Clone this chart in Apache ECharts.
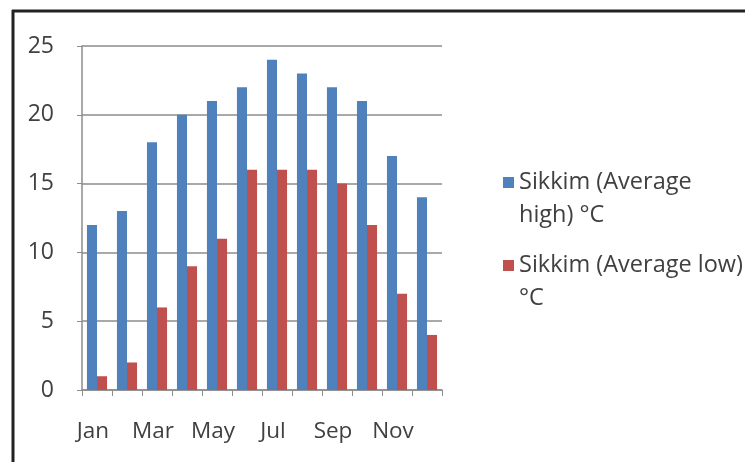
<!DOCTYPE html>
<html>
<head>
<meta charset="utf-8">
<script src="https://cdn.jsdelivr.net/npm/echarts@6/dist/echarts.min.js"></script>
<style>
html,body{margin:0;padding:0;background:#fff;}
#c{width:745px;height:462px;}
</style>
</head>
<body>
<div id="c"></div>
<script>
var categories = ['Jan','Feb','Mar','Apr','May','Jun','Jul','Aug','Sep','Oct','Nov','Dec'];
var avgHigh = [12,13,18,20,21,22,24,23,22,21,17,14];
var avgLow = [1,2,6,9,11,16,16,16,15,12,7,4];
var seriesNames = ['Sikkim (Average high) °C','Sikkim (Average low) °C'];
var legendLines = {
  'Sikkim (Average high) °C': 'Sikkim (Average\nhigh) °C',
  'Sikkim (Average low) °C': 'Sikkim (Average low)\n°C'
};

var chart = echarts.init(document.getElementById('c'));
var txt = '#404040';
var font = '"Open Sans"';
var LH = 33;
function legendCfg(name, top) {
  return {
    data: [name],
    left: 498,
    top: top,
    orient: 'vertical',
    itemWidth: 11,
    itemHeight: 44,
    itemGap: 0,
    icon: 'path://M0,0h10v10h-10z M0,40h0.05v0.05h-0.05z',
    selectedMode: false,
    formatter: function (n) { return legendLines[n]; },
    textStyle: { color: txt, fontFamily: font, fontSize: 23.5, lineHeight: LH }
  };
}
chart.setOption({
  animation: false,
  backgroundColor: '#ffffff',
  graphic: [
    { type: 'line', shape: { x1: 12, y1: 11, x2: 745, y2: 11 }, style: { stroke: '#222', lineWidth: 3 } },
    { type: 'line', shape: { x1: 13, y1: 10, x2: 13, y2: 462 }, style: { stroke: '#222', lineWidth: 3 } }
  ],
  legend: [legendCfg(seriesNames[0], 161), legendCfg(seriesNames[1], 244)],
  grid: { left: 82, right: 303, top: 46, bottom: 72, containLabel: false },
  xAxis: {
    type: 'category',
    data: categories,
    axisLine: { lineStyle: { color: '#8c8c8c', width: 1.5 } },
    axisTick: { show: true, interval: 0, length: 6, lineStyle: { color: '#8c8c8c' } },
    axisLabel: { interval: 1, color: txt, fontFamily: font, fontSize: 22.5, margin: 30, padding: [0, 8, 0, 0] }
  },
  yAxis: {
    type: 'value',
    min: 0, max: 25, interval: 5,
    axisLine: { show: true, lineStyle: { color: '#8c8c8c', width: 1.5 } },
    axisTick: { show: true, length: 5, lineStyle: { color: '#8c8c8c' } },
    axisLabel: { color: txt, fontFamily: font, fontSize: 23, margin: 28 },
    splitLine: { lineStyle: { color: '#8c8c8c', width: 1.5 } }
  },
  series: [
    { name: seriesNames[0], type: 'bar', data: avgHigh, barGap: '0%', barCategoryGap: '33%',
      itemStyle: { color: '#4F81BD' } },
    { name: seriesNames[1], type: 'bar', data: avgLow, barGap: '0%', barCategoryGap: '33%',
      itemStyle: { color: '#C0504D' } }
  ]
});
</script>
</body>
</html>
